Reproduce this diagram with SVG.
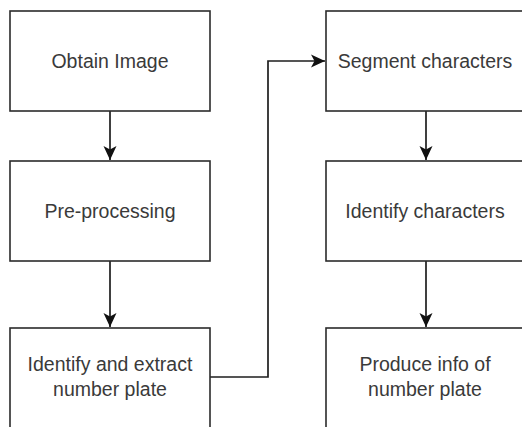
<svg xmlns="http://www.w3.org/2000/svg" width="522" height="427" viewBox="0 0 522 427">
  <style>
    .box { fill: #ffffff; stroke: #2b2b2b; stroke-width: 1.6; }
    .label { font-family: "Liberation Sans", Arial, sans-serif; font-size: 19.5px; fill: #3a3a3a; text-anchor: middle; }
    .edge { fill: none; stroke: #1e1e1e; stroke-width: 1.7; }
  </style>
  <defs>
    <marker id="arrow" markerUnits="userSpaceOnUse" markerWidth="16" markerHeight="16" viewBox="-14 -8 16 16" refX="0" refY="0" orient="auto">
      <path d="M0,0 L-14,-6.5 L-10.5,0 L-14,6.5 Z" fill="#111111"/>
    </marker>
  </defs>
  <rect width="522" height="427" fill="#ffffff"/>

  <g id="connectors">
    <path class="edge" d="M110,111 V160" marker-end="url(#arrow)"/>
    <path class="edge" d="M110,261 V327" marker-end="url(#arrow)"/>
    <path class="edge" d="M210,377 H268 V61 H325" marker-end="url(#arrow)"/>
    <path class="edge" d="M426,111 V160" marker-end="url(#arrow)"/>
    <path class="edge" d="M426,261 V327" marker-end="url(#arrow)"/>
  </g>

  <g id="obtain-image">
    <rect class="box" x="10" y="11" width="200" height="100"/>
    <text class="label" x="110" y="68">Obtain Image</text>
  </g>
  <g id="pre-processing">
    <rect class="box" x="10" y="161" width="200" height="100"/>
    <text class="label" x="110" y="218">Pre-processing</text>
  </g>
  <g id="identify-extract">
    <rect class="box" x="10" y="328" width="200" height="100"/>
    <text class="label" x="110" y="371">Identify and extract</text>
    <text class="label" x="110" y="396">number plate</text>
  </g>
  <g id="segment-characters">
    <rect class="box" x="326" y="11" width="200" height="100"/>
    <text class="label" x="425" y="68">Segment characters</text>
  </g>
  <g id="identify-characters">
    <rect class="box" x="326" y="161" width="200" height="100"/>
    <text class="label" x="425" y="218">Identify characters</text>
  </g>
  <g id="produce-info">
    <rect class="box" x="326" y="328" width="200" height="100"/>
    <text class="label" x="425" y="371">Produce info of</text>
    <text class="label" x="425" y="396">number plate</text>
  </g>
</svg>
